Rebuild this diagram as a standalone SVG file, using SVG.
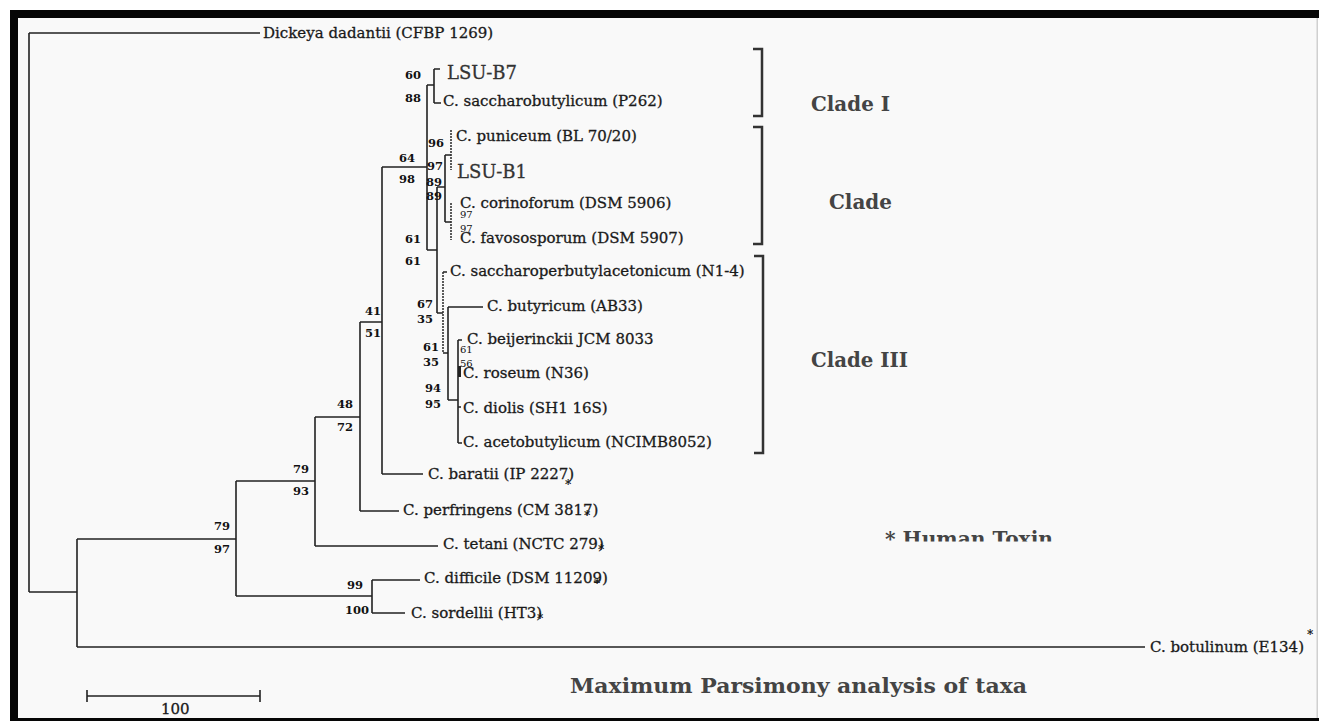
<svg xmlns="http://www.w3.org/2000/svg" width="1319" height="721" viewBox="0 0 1319 721">
<defs>
<style>
.br{fill:none;stroke:#222;stroke-width:1.6}
.dot{fill:none;stroke:#333;stroke-width:1.6;stroke-dasharray:2 1}
.brk{fill:none;stroke:#333;stroke-width:2.5}
.tx{font-family:"DejaVu Serif","Liberation Serif",serif;font-size:15px;fill:#1a1a1a;stroke:#1a1a1a;stroke-width:0.3}
.lsu{font-family:"DejaVu Serif","Liberation Serif",serif;font-size:18px;fill:#333;stroke:#333;stroke-width:0.3}
.bs{font-family:"DejaVu Serif","Liberation Serif",serif;font-size:11.5px;font-weight:bold;fill:#111}
.bss{font-family:"DejaVu Serif","Liberation Serif",serif;font-size:10px;fill:#111}
.ast{font-family:"DejaVu Serif","Liberation Serif",serif;font-size:12px;font-weight:bold;fill:#111}
.cl{font-family:"DejaVu Serif","Liberation Serif",serif;font-size:21px;font-weight:bold;fill:#444}
</style>
<clipPath id="cut"><rect x="0" y="0" width="1319" height="541.5"/></clipPath>
</defs>
<rect x="0" y="0" width="1319" height="721" fill="#fff"/>
<rect x="18" y="18" width="1299" height="700" fill="#f9f9f9"/>
<rect x="10" y="10" width="1309" height="8" fill="#060606"/>
<rect x="10" y="10" width="8" height="711" fill="#060606"/>
<rect x="10" y="718" width="1309" height="3" fill="#060606"/>
<rect x="1316.5" y="18" width="1.5" height="700" fill="#d0d0d0"/>

<g id="connectors">
<path class="br" d="M29,33 V592 M29,33 H260 M29,592 H77 M77,539 V647 M77,647 H1145 M77,539 H236 M236,481 V596 M236,596 H372 M372,580 V613 M372,580 H420 M372,613 H405 M236,481 H315 M315,417 V546 M315,546 H438 M315,417 H360 M360,322 V511 M360,511 H399 M360,322 H382 M382,167 V474 M382,474 H423 M382,167 H427 M427,85 V250 M427,85 H434 M434,69 V103 M434,69 H440 M434,103 H441 M427,250 H437 M437,187 V313 M437,187 H445 M445,155 V222 M445,155 H451 M445,222 H451 M437,313 H443 M443,272 H447 M443,353 H448 M448,307 V400 M448,307 H483 M448,400 H458 M458,340 V443 M458,340 H462 M458,443 H462 M458,407 H461"/>
<path class="dot" d="M451,130 V170 M451,203 V240 M443,272 V353"/>
<path d="M459.5,366 V377" stroke="#222" stroke-width="3"/>
</g>

<g id="scalebar">
<path class="br" d="M87,696 H260 M87,690 V702 M260,690 V702"/>
<text class="tx" x="161" y="714" font-size="13">100</text>
</g>

<g id="n-dickeya"><text class="tx" x="263" y="38">Dickeya dadantii (CFBP 1269)</text></g>
<g id="n-botulinum"><text class="tx" x="1150" y="652">C. botulinum (E134)</text><text class="ast" x="1307" y="639">*</text></g>
<g id="n-lsub7"><text class="lsu" x="447" y="79">LSU-B7</text></g>
<g id="n-saccharobutylicum"><text class="tx" x="443" y="106">C. saccharobutylicum (P262)</text></g>
<g id="n-puniceum"><text class="tx" x="456" y="141">C. puniceum (BL 70/20)</text></g>
<g id="n-lsub1"><text class="lsu" x="457" y="178">LSU-B1</text></g>
<g id="n-corinoforum"><text class="tx" x="460" y="208">C. corinoforum (DSM 5906)</text></g>
<g id="n-favososporum"><text class="tx" x="460" y="243">C. favososporum (DSM 5907)</text></g>
<g id="n-saccharoperbutylacetonicum"><text class="tx" x="450" y="276">C. saccharoperbutylacetonicum (N1-4)</text></g>
<g id="n-butyricum"><text class="tx" x="487" y="311">C. butyricum (AB33)</text></g>
<g id="n-beijerinckii"><text class="tx" x="467" y="344">C. beijerinckii JCM 8033</text></g>
<g id="n-roseum"><text class="tx" x="463" y="378">C. roseum (N36)</text></g>
<g id="n-diolis"><text class="tx" x="463" y="413">C. diolis (SH1 16S)</text></g>
<g id="n-acetobutylicum"><text class="tx" x="463" y="447">C. acetobutylicum (NCIMB8052)</text></g>
<g id="n-baratii"><text class="tx" x="428" y="479">C. baratii (IP 2227)</text><text class="ast" x="565" y="489">*</text></g>
<g id="n-perfringens"><text class="tx" x="403" y="515">C. perfringens (CM 3817)</text><text class="ast" x="584" y="520">*</text></g>
<g id="n-tetani"><text class="tx" x="443" y="549">C. tetani (NCTC 279)</text><text class="ast" x="598" y="554">*</text></g>
<g id="n-difficile"><text class="tx" x="424" y="583">C. difficile (DSM 11209)</text><text class="ast" x="594" y="588">*</text></g>
<g id="n-sordellii"><text class="tx" x="411" y="618">C. sordellii (HT3)</text><text class="ast" x="537" y="623">*</text></g>

<g id="support">
<text class="bs" x="405" y="79">60</text><text class="bs" x="405" y="102">88</text>
<text class="bs" x="399" y="162">64</text><text class="bs" x="399" y="183">98</text>
<text class="bs" x="428" y="147">96</text><text class="bs" x="427" y="170">97</text>
<text class="bs" x="426" y="186">89</text><text class="bs" x="426" y="200">89</text>
<text class="bss" x="460" y="218">97</text><text class="bss" x="460" y="232">97</text>
<text class="bs" x="405" y="243">61</text><text class="bs" x="405" y="265">61</text>
<text class="bs" x="417" y="308">67</text><text class="bs" x="417" y="323">35</text>
<text class="bs" x="423" y="351">61</text><text class="bs" x="423" y="366">35</text>
<text class="bs" x="425" y="392">94</text><text class="bs" x="425" y="408">95</text>
<text class="bss" x="460" y="353">61</text><text class="bss" x="460" y="367">56</text>
<text class="bs" x="365" y="315">41</text><text class="bs" x="365" y="337">51</text>
<text class="bs" x="337" y="408">48</text><text class="bs" x="337" y="431">72</text>
<text class="bs" x="293" y="473">79</text><text class="bs" x="293" y="495">93</text>
<text class="bs" x="214" y="530">79</text><text class="bs" x="214" y="553">97</text>
<text class="bs" x="347" y="589">99</text><text class="bs" x="345" y="614">100</text>
</g>

<g id="clades">
<path class="brk" d="M753,49 H762 V116 H753 M753,127 H762 V244 H753 M754,256 H763 V453 H754"/>
<text class="cl" x="811" y="111" textLength="79" lengthAdjust="spacingAndGlyphs">Clade I</text>
<text class="cl" x="829" y="209" textLength="63" lengthAdjust="spacingAndGlyphs">Clade</text>
<text class="cl" x="811" y="367" textLength="97" lengthAdjust="spacingAndGlyphs">Clade III</text>
</g>
<g id="legend" clip-path="url(#cut)">
<text class="cl" x="885" y="546" textLength="168" lengthAdjust="spacingAndGlyphs">* Human Toxin</text>
</g>
<g id="title">
<text class="cl" x="570" y="693" font-size="22" textLength="457" lengthAdjust="spacingAndGlyphs">Maximum Parsimony analysis of taxa</text>
</g>
</svg>
